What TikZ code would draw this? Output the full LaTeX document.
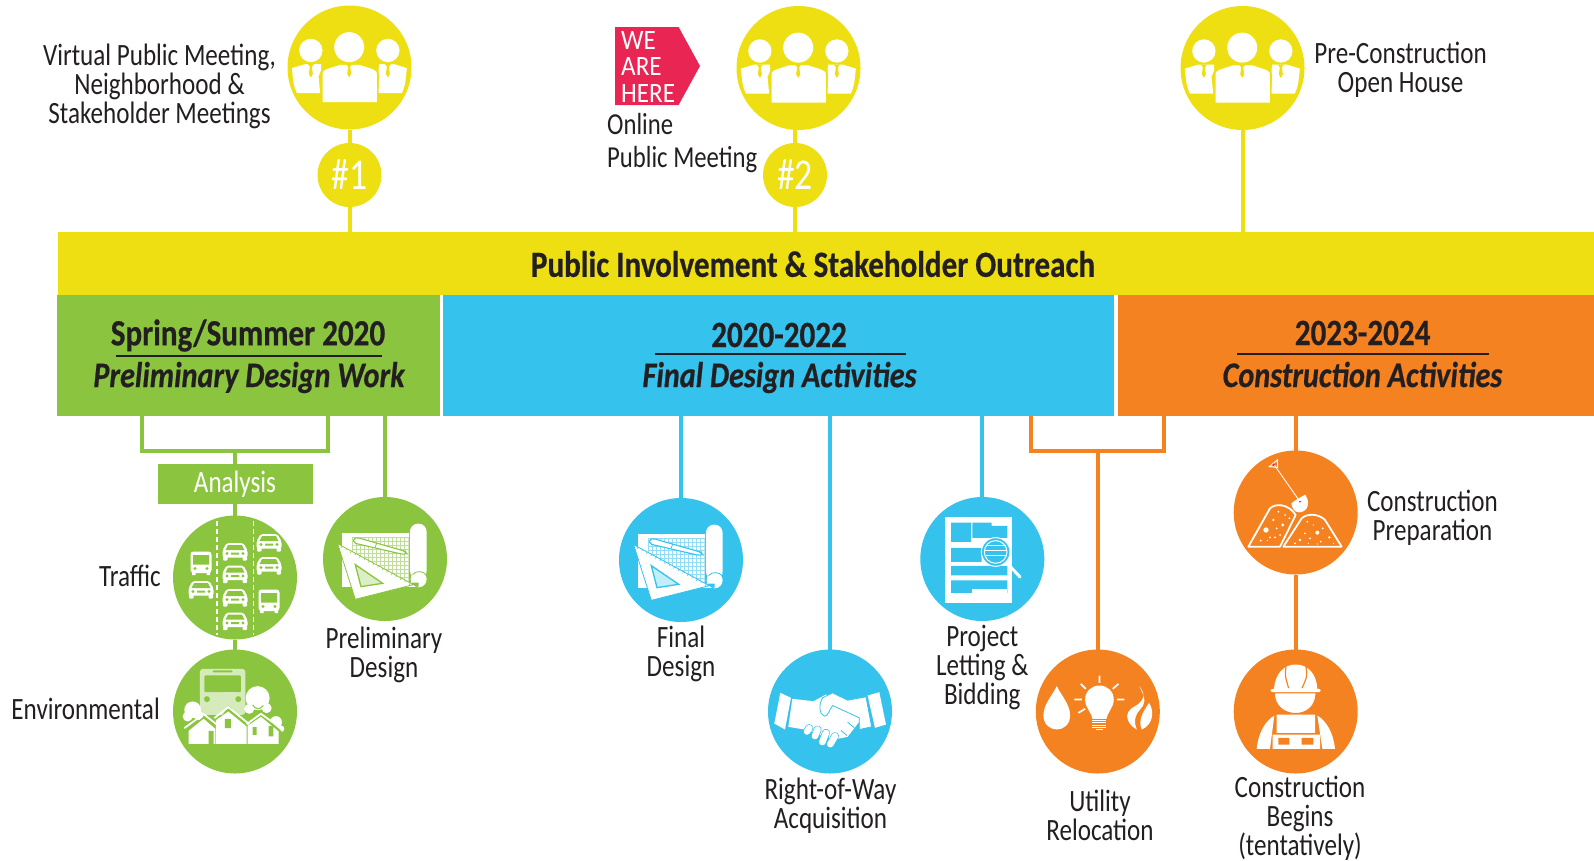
\documentclass[tikz,border=0pt]{standalone}
\usepackage{fontspec}
\setmainfont[FakeStretch=0.81]{Carlito}
\newfontfamily\headfont[FakeStretch=0.84,BoldFeatures={FakeBold=0.5},BoldItalicFeatures={FakeBold=0.5}]{Carlito}
\newfontfamily\flagfont[FakeStretch=0.9]{Carlito}
\usetikzlibrary{positioning, calc}
\definecolor{outreachYellow}{HTML}{EDDF12}
\definecolor{designGreen}{HTML}{8BC540}
\definecolor{finalBlue}{HTML}{35C2ED}
\definecolor{buildOrange}{HTML}{F58220}
\definecolor{hereRed}{HTML}{E92653}
\definecolor{ink}{HTML}{231F20}

\tikzset{
   band/.style={anchor=north west, inner sep=0pt, outer sep=0pt, minimum height=121pt},
   medallion/.style={circle, inner sep=0pt, outer sep=0pt, minimum size=124pt},
   numberdot/.style={circle, inner sep=0pt, outer sep=0pt, minimum size=64pt, fill=outreachYellow, text=white, font=\fontsize{44}{44}\selectfont},
   caption/.style={align=center, inner sep=0pt, text=ink, font=\fontsize{31}{29}\selectfont},
   yearlabel/.style={inner sep=0pt, text=ink, font=\headfont\fontsize{37}{37}\selectfont\bfseries},
   phaselabel/.style={inner sep=0pt, text=ink, font=\headfont\fontsize{36}{36}\selectfont\bfseries\itshape},
   headrule/.style={inner sep=0pt, outer sep=0pt, fill=ink, minimum height=2pt},
   stem/.style={line width=4pt, draw=#1},
   % icons: coordinates are read off a crop at three times the size
   pics/people/.style={code={
      \begin{scope}[shift={(-64.3,-62.7)},scale=.3333]
         \fill[white] (192,127) circle (45) (77,137) circle (35) (308,137) circle (35);
         \fill[white] (20,190) -- (60,178) -- (108,178) -- (108,195) -- (100,215) -- (105,265) -- (35,265) .. controls (25,240) .. (20,190) -- cycle;
         \fill[white] (365,190) -- (327,178) -- (282,178) -- (280,195) -- (282,215) -- (280,265) -- (350,265) .. controls (360,240) .. (365,190) -- cycle;
         \fill[white] (112,292) -- (112,215) .. controls (112,200) .. (125,193) -- (165,180) -- (222,180) -- (262,193) .. controls (275,200) .. (275,215) -- (275,292) -- cycle;
         \foreach \tiex in {77,192,308}
            \fill[outreachYellow] (\tiex-9,178) -- (\tiex+9,178) -- (\tiex+3,186) -- (\tiex+6,207) -- (\tiex,218) -- (\tiex-6,207) -- (\tiex-3,186) -- cycle;
      \end{scope}
   }},
   pics/drafting/.style={code={
      \begin{scope}[shift={(-65.7,-63.7)},scale=.3333]
         \fill[white] (67,112) rectangle (268,275);
         \begin{scope}
            \clip (67,112) rectangle (268,275);
            \foreach \gx in {100,112,...,268} \draw[#1!55, line width=.3pt] (\gx,125) -- (\gx,275);
            \foreach \gy in {125,137,...,275} \draw[#1!55, line width=.3pt] (100,\gy) -- (268,\gy);
         \end{scope}
         \fill[white, rounded corners=8pt] (272,250) -- (272,85) -- (322,85) -- (322,250) -- cycle;
         \fill[white] (298,252) circle (24) (268,262) rectangle (298,275);
         \draw[#1, line width=.8pt] (280,238) .. controls (290,225) and (312,226) .. (322,240);
         \filldraw[fill=white, draw=#1, line width=.8pt] (55,145) -- (282,268) -- (108,312) -- cycle;
         \foreach \tick in {.06,.12,...,.96}
            \draw[#1, line width=.5pt] ($(55,145)!\tick!(282,268)$) -- ++(-3,5);
         \filldraw[fill=#1!30, draw=#1, line width=1.3pt] (108,208) -- (190,264) -- (125,274) -- cycle;
         \filldraw[fill=white, draw=#1, line width=1.1pt, rounded corners=2pt] (103,128) -- (115,127) -- (258,168) -- (262,176) -- (250,177) -- (103,143) -- cycle;
         \draw[#1, line width=.8pt] (172,144) -- (167,157);
      \end{scope}
   }},
   pics/car/.style={code={
      \fill[white, rounded corners=2pt] (-12.5,-1) -- (-8.5,-8.5) -- (8.5,-8.5) -- (12.5,-1) -- (12.5,6) -- (-12.5,6) -- cycle;
      \fill[white, rounded corners=1pt] (-12,5) rectangle (-7.5,9) (7.5,5) rectangle (12,9);
      \fill[#1] (-7,-6.5) -- (7,-6.5) -- (9.5,-1.5) -- (-9.5,-1.5) -- cycle;
      \fill[#1] (-8,2) circle (1.6) (8,2) circle (1.6) (-4,1) rectangle (4,3);
   }},
   pics/coach/.style={code={
      \fill[white, rounded corners=3pt] (-10.5,-11.5) rectangle (10.5,10);
      \fill[white] (-9,9) rectangle (-5.5,12) (5.5,9) rectangle (9,12);
      \fill[#1] (-8,-8) rectangle (8,1.5) (-6,5.5) circle (1.6) (6,5.5) circle (1.6);
   }},
   pics/traffic/.style={code={
      \draw[white, dash pattern=on 5pt off 3pt, line width=1.2pt] (-18,-57) -- (-18,57) (18.6,-57) -- (18.6,57);
      \foreach \carx/\cary in {0/-26, 0/-3.5, 0/20, 0/43.5, 34/-35, 34/-12, -34/12}
         \pic at (\carx,\cary) {car=#1};
      \pic at (34,23.5) {coach=#1};
      \pic at (-34,-14.5) {coach=#1};
   }},
   pics/neighbourhood/.style={code={
      \begin{scope}[shift={(-65.7,-66.7)},scale=.3333]
         \fill[#1!35!white, rounded corners=3pt] (92,210) -- (92,72) -- (228,72) -- (228,210) -- cycle;
         \fill[#1, rounded corners=1pt] (105,92) rectangle (215,142) (130,77) rectangle (190,83);
         \fill[#1] (113,163) circle (9) (207,163) circle (9);
         \fill[#1!35!white] (160,142) arc (180:0:20 and 8) -- cycle;
         \fill[white] (70,195) circle (25) (55,215) circle (15) (88,212) circle (14);
         \fill[white] (265,160) circle (36) (240,192) circle (15) (292,190) circle (15) (320,232) circle (18) (335,252) circle (10);
         \draw[#1, line width=1pt] (250,180) .. controls (258,195) and (272,195) .. (282,182);
         \fill[#1] (48,265) -- (100,218) -- (140,245) -- (177,182) -- (235,235) -- (275,200) -- (342,265) -- (330,300) -- (58,300) -- cycle;
         \fill[white] (58,297) -- (58,258) -- (103,222) -- (138,252) -- (138,297) -- cycle;
         \fill[white] (140,297) -- (140,226) -- (177,200) -- (232,245) -- (232,297) -- cycle;
         \fill[white] (235,297) -- (235,243) -- (275,216) -- (328,260) -- (328,297) -- cycle;
         \draw[white, line width=1.8pt] (45,250) -- (103,208) -- (150,245) (135,220) -- (177,187) -- (240,238) (232,238) -- (275,207) -- (335,250);
         \fill[#1] (118,258) rectangle (133,297) (167,222) rectangle (185,250) (250,247) rectangle (262,270) (298,243) rectangle (312,275);
      \end{scope}
   }},
   pics/handshake/.style={code={
      \begin{scope}[shift={(-65.7,-62)},scale=.3333]
         \fill[white] (48,130) -- (80,145) -- (62,240) -- (30,222) -- cycle;
         \fill[white] (310,138) -- (345,128) -- (365,225) -- (332,235) -- cycle;
         \fill[white] (84,148) -- (148,155) -- (185,135) -- (290,210) -- (250,262) -- (210,270) -- (120,240) -- (72,232) -- cycle;
         \filldraw[fill=white, draw=#1, line width=.8pt] (305,142) -- (250,152) -- (205,130) -- (175,145) .. controls (162,165) and (165,195) .. (180,200) .. controls (192,200) and (195,180) .. (205,168) -- (285,205) -- (285,240) -- (322,232) -- cycle;
         \draw[#1, line width=.8pt] (248,258) -- (230,243) (270,235) -- (250,218);
         \foreach \fx/\fy/\gx/\gy in {135/236/128/246, 160/240/152/260, 185/250/174/278, 212/260/198/284}{
            \draw[#1, line width=8pt, line cap=round] (\fx,\fy) -- (\gx,\gy);
            \draw[white, line width=6.6pt, line cap=round] (\fx,\fy) -- (\gx,\gy);
         }
      \end{scope}
   }},
   pics/letting/.style={code={
      \begin{scope}[shift={(-62.3,-63.7)},scale=.3333]
         \fill[white] (75,66) rectangle (277,323);
         \fill[#1] (93,82) rectangle (153,140) (93,158) rectangle (185,200) (93,212) rectangle (262,240) (93,255) rectangle (262,293);
         \fill[#1] (157,82) rectangle (215,128) (215,92) rectangle (262,128);
         \fill[white] (155,282) rectangle (262,296);
         \draw[white, line width=3pt, line cap=round] (258,200) -- (300,245);
         \filldraw[fill=#1, draw=white, line width=1pt] (227,170) circle (43);
         \draw[white, line width=1pt] (227,170) circle (34);
         \draw[white, line width=1.2pt] (197,150) -- (257,150) (192,165) -- (262,165) (197,180) -- (257,180);
      \end{scope}
   }},
   pics/utilities/.style={code={
      \begin{scope}[shift={(-62.7,-62)},scale=.3333]
         \fill[white] (65,110) .. controls (50,140) and (25,165) .. (25,198) .. controls (25,225) and (45,240) .. (65,240) .. controls (85,240) and (105,225) .. (105,198) .. controls (105,165) and (80,140) .. (65,110) -- cycle;
         \fill[white] (172,208) .. controls (170,190) and (150,175) .. (150,150) .. controls (150,125) and (170,108) .. (193,108) .. controls (216,108) and (236,125) .. (236,150) .. controls (236,175) and (216,190) .. (214,208) -- cycle;
         \draw[white, line width=1.2pt] (172,213) -- (214,213) (172,220) -- (214,220) (172,227) -- (214,227) (172,234) -- (214,234) (182,240) -- (204,240);
         \draw[white, line width=1.7pt] (193,78) -- (193,100) (137,103) -- (152,118) (250,103) -- (233,118) (118,150) -- (140,150) (245,150) -- (268,150) (130,190) -- (150,178);
         \fill[white] (312,110) .. controls (335,135) and (325,155) .. (300,170) .. controls (280,180) and (272,195) .. (278,210) .. controls (283,225) and (295,235) .. (305,240) .. controls (295,215) and (300,195) .. (315,180) .. controls (330,165) and (335,150) .. (312,110) -- cycle;
         \fill[white] (342,160) .. controls (358,185) and (355,225) .. (320,240) .. controls (310,215) and (318,195) .. (342,160) -- cycle;
      \end{scope}
   }},
   pics/earthworks/.style={code={
      \begin{scope}[shift={(-65.7,-62.5)},scale=.3333]
         \draw[white, line width=.9pt] (133,45) -- (210,155);
         \draw[white, line width=1pt] (118,50) -- (142,30) -- (143,52) -- cycle;
         \fill[hereRed] (131,44) circle (4);
         \fill[white] (184,160) .. controls (195,150) and (215,140) .. (226,134) .. controls (245,165) and (228,187) .. (207,187) .. controls (192,187) and (185,172) .. (184,160) -- cycle;
         \fill[hereRed] (210,155) circle (3);
         \draw[white, line width=1.8pt, line join=round] (55,290) -- (120,175) .. controls (135,160) and (175,160) .. (197,195) -- (150,290) -- cycle;
         \draw[white, line width=1.8pt, line join=round] (160,290) -- (215,205) .. controls (230,190) and (265,190) .. (285,210) -- (335,290) -- cycle;
         \foreach \dotx/\doty/\dotr in {108/240/8, 145/185/3, 130/210/4, 158/225/5, 165/195/3, 140/235/3, 120/262/3, 92/272/3, 150/255/3, 178/205/3, 112/272/2, 135/262/3,
            232/215/3, 262/248/6, 225/250/3, 210/270/4, 240/265/3, 272/275/3, 298/262/4, 250/225/2, 278/235/3, 195/280/3, 235/280/2, 262/282/2, 310/280/2}
            \fill[white] (\dotx,\doty) circle (\dotr);
      \end{scope}
   }},
   pics/worker/.style={code={
      \begin{scope}[shift={(-65.7,-62)},scale=.3333]
         \fill[white] (80,298) .. controls (85,250) and (105,215) .. (133,198) -- (120,298) -- cycle;
         \fill[white] (315,298) .. controls (310,250) and (290,215) .. (262,198) -- (277,298) -- cycle;
         \fill[white] (140,195) rectangle (255,250) (128,255) rectangle (270,298);
         \fill[#1] (145,265) rectangle (178,285) (215,265) rectangle (250,285);
         \filldraw[fill=white, draw=#1, line width=1pt] (133,130) -- (258,130) .. controls (258,170) and (230,192) .. (197,192) .. controls (163,192) and (133,170) .. (133,130) -- cycle;
         \fill[white] (132,118) .. controls (135,75) and (160,45) .. (197,45) .. controls (235,45) and (260,75) .. (262,118) -- cycle;
         \fill[white, rounded corners=2pt] (122,118) rectangle (272,128);
         \draw[#1, line width=1.2pt] (168,52) .. controls (165,80) .. (176,116) (228,52) .. controls (232,80) .. (216,116);
      \end{scope}
   }},
}

\begin{document}
\begin{tikzpicture}[x=1pt, y=-1pt]
   \useasboundingbox (0,0) rectangle (1594,860);

   % Bands
   \node[band, fill=outreachYellow, minimum width=1536pt, minimum height=63.5pt] (outreach) at (58,231.5) {};
   \node[band, fill=designGreen, minimum width=383pt] (bandA) at (56.5,295) {};
   \node[band, fill=finalBlue, minimum width=671pt] (bandB) at (443,295) {};
   \node[band, fill=buildOrange, minimum width=476pt] (bandC) at (1118,295) {};

   \node[inner sep=0pt, text=ink, font=\headfont\fontsize{37}{37}\selectfont\bfseries] (outreachText) at (813,264) {Public Involvement \& Stakeholder Outreach};

   % Band headings
   \node[yearlabel] (yearA) at (248,335.5) {Spring/Summer 2020};
   \node[headrule, minimum width=266pt] (ruleA) at (249,356) {};
   \node[phaselabel] (phaseA) at (249,377.5) {Preliminary Design Work};
   \node[yearlabel] (yearB) at (779,335) {2020-2022};
   \node[headrule, minimum width=251pt] (ruleB) at (780.5,354) {};
   \node[phaselabel] (phaseB) at (779.5,377.5) {Final Design Activities};
   \node[yearlabel] (yearC) at (1362.6,333) {2023-2024};
   \node[headrule, minimum width=252pt] (ruleC) at (1362.6,354) {};
   \node[phaselabel] (phaseC) at (1362.5,374.5) {Construction Activities};

   % Meetings
   \node[medallion, fill=outreachYellow] (meetA) at (349.5,67.5) {};
   \node[medallion, fill=outreachYellow] (meetB) at (798.5,68) {};
   \node[medallion, fill=outreachYellow] (meetC) at (1242.5,68) {};
   \foreach \meet in {meetA, meetB, meetC} \pic at (\meet) {people};
   \node[numberdot] (numA) at (349.5,175) {\#1};
   \node[numberdot] (numB) at (795,175) {\#2};
   \draw[stem=outreachYellow] (meetA.south) -- (numA.north);
   \draw[stem=outreachYellow] (numA.south) -- (numA.south |- outreach.north);
   \draw[stem=outreachYellow] (numB.north |- meetB.south) -- (numB.north);
   \draw[stem=outreachYellow] (numB.south) -- (numB.south |- outreach.north);
   \draw[stem=outreachYellow] (meetC.south) -- (meetC.south |- outreach.north);

   \node[caption] (meetAText) at (159.5,86) {Virtual Public Meeting,\\Neighborhood \&\\Stakeholder Meetings};
   \node[caption] (meetCText) at (1400.5,70) {Pre-Construction\\Open House};
   \fill[hereRed] (615,27) -- (678.6,27) -- (700,66) -- (678.6,105) -- (615,105) -- cycle;
   \node[align=left, inner sep=0pt, text=white, anchor=west, font=\flagfont\fontsize{28}{26.5}\selectfont] (hereText) at (621,67) {WE\\ARE\\HERE};
   \node[align=left, inner sep=0pt, text=ink, anchor=west, font=\fontsize{30.5}{33}\selectfont] (meetBText) at (607,143) {Online\\Public Meeting};

   % Preliminary design work
   \coordinate (greenL) at (142,451);
   \coordinate (greenR) at (327.5,451);
   \coordinate (greenJoin) at (235,451);
   \node[fill=designGreen, text=white, inner sep=0pt, minimum width=155pt, minimum height=40pt, font=\fontsize{31}{30}\selectfont] (analysis) at (235,484) {Analysis};
   \node[medallion, fill=designGreen] (traffic) at (235,577.5) {};
   \node[medallion, fill=designGreen] (environ) at (235,711.5) {};
   \node[medallion, fill=designGreen] (prelim) at (385,559) {};
   \pic at (traffic) {traffic=designGreen};
   \pic at (environ) {neighbourhood=designGreen};
   \pic at (prelim) {drafting=designGreen};
   \draw[stem=designGreen] (greenL |- bandA.south) -- (greenL) -- (greenR) -- (greenR |- bandA.south);
   \draw[stem=designGreen] (greenJoin) -- (analysis.north);
   \draw[stem=designGreen] (analysis.south) -- (traffic.north);
   \draw[stem=designGreen] (traffic.south) -- (environ.north);
   \draw[stem=designGreen] (prelim.north |- bandA.south) -- (prelim.north);
   \node[caption, anchor=east] (trafficText) at (161,576) {Traffic};
   \node[caption, anchor=east] (environText) at (160,709) {Environmental};
   \node[caption] (prelimText) at (384,654.5) {Preliminary\\Design};

   % Final design activities
   \node[medallion, fill=finalBlue] (final) at (681,560) {};
   \node[medallion, fill=finalBlue] (row) at (830,711.5) {};
   \node[medallion, fill=finalBlue] (project) at (982.3,559) {};
   \pic at (final) {drafting=finalBlue};
   \pic at (row) {handshake=finalBlue};
   \pic at (project) {letting=finalBlue};
   \draw[stem=finalBlue] (final.north |- bandB.south) -- (final.north);
   \draw[stem=finalBlue] (row.north |- bandB.south) -- (row.north);
   \draw[stem=finalBlue] (project.north |- bandB.south) -- (project.north);
   \node[caption] (finalText) at (681,654) {Final\\Design};
   \node[caption] (rowText) at (830.5,806) {Right-of-Way\\Acquisition};
   \node[caption] (projectText) at (982.3,667.5) {Project\\Letting \&\\Bidding};

   % Construction activities
   \coordinate (orangeL) at (1031,451);
   \coordinate (orangeR) at (1163.5,451);
   \coordinate (orangeJoin) at (1097.8,451);
   \node[medallion, fill=buildOrange] (utility) at (1097.8,711.5) {};
   \node[medallion, fill=buildOrange] (prep) at (1295.7,512.5) {};
   \node[medallion, fill=buildOrange] (begins) at (1295.7,711.5) {};
   \pic at (utility) {utilities};
   \pic at (prep) {earthworks};
   \pic at (begins) {worker=buildOrange};
   \draw[stem=buildOrange] (orangeL |- bandC.south) -- (orangeL) -- (orangeR) -- (orangeR |- bandC.south);
   \draw[stem=buildOrange] (orangeJoin) -- (utility.north);
   \draw[stem=buildOrange] (prep.north |- bandC.south) -- (prep.north);
   \draw[stem=buildOrange] (prep.south) -- (begins.north);
   \node[caption] (utilityText) at (1100,815) {Utility\\Relocation};
   \node[caption] (prepText) at (1432.4,518) {Construction\\Preparation};
   \node[caption] (beginsText) at (1300,818) {Construction\\Begins\\(tentatively)};
\end{tikzpicture}
\end{document}
